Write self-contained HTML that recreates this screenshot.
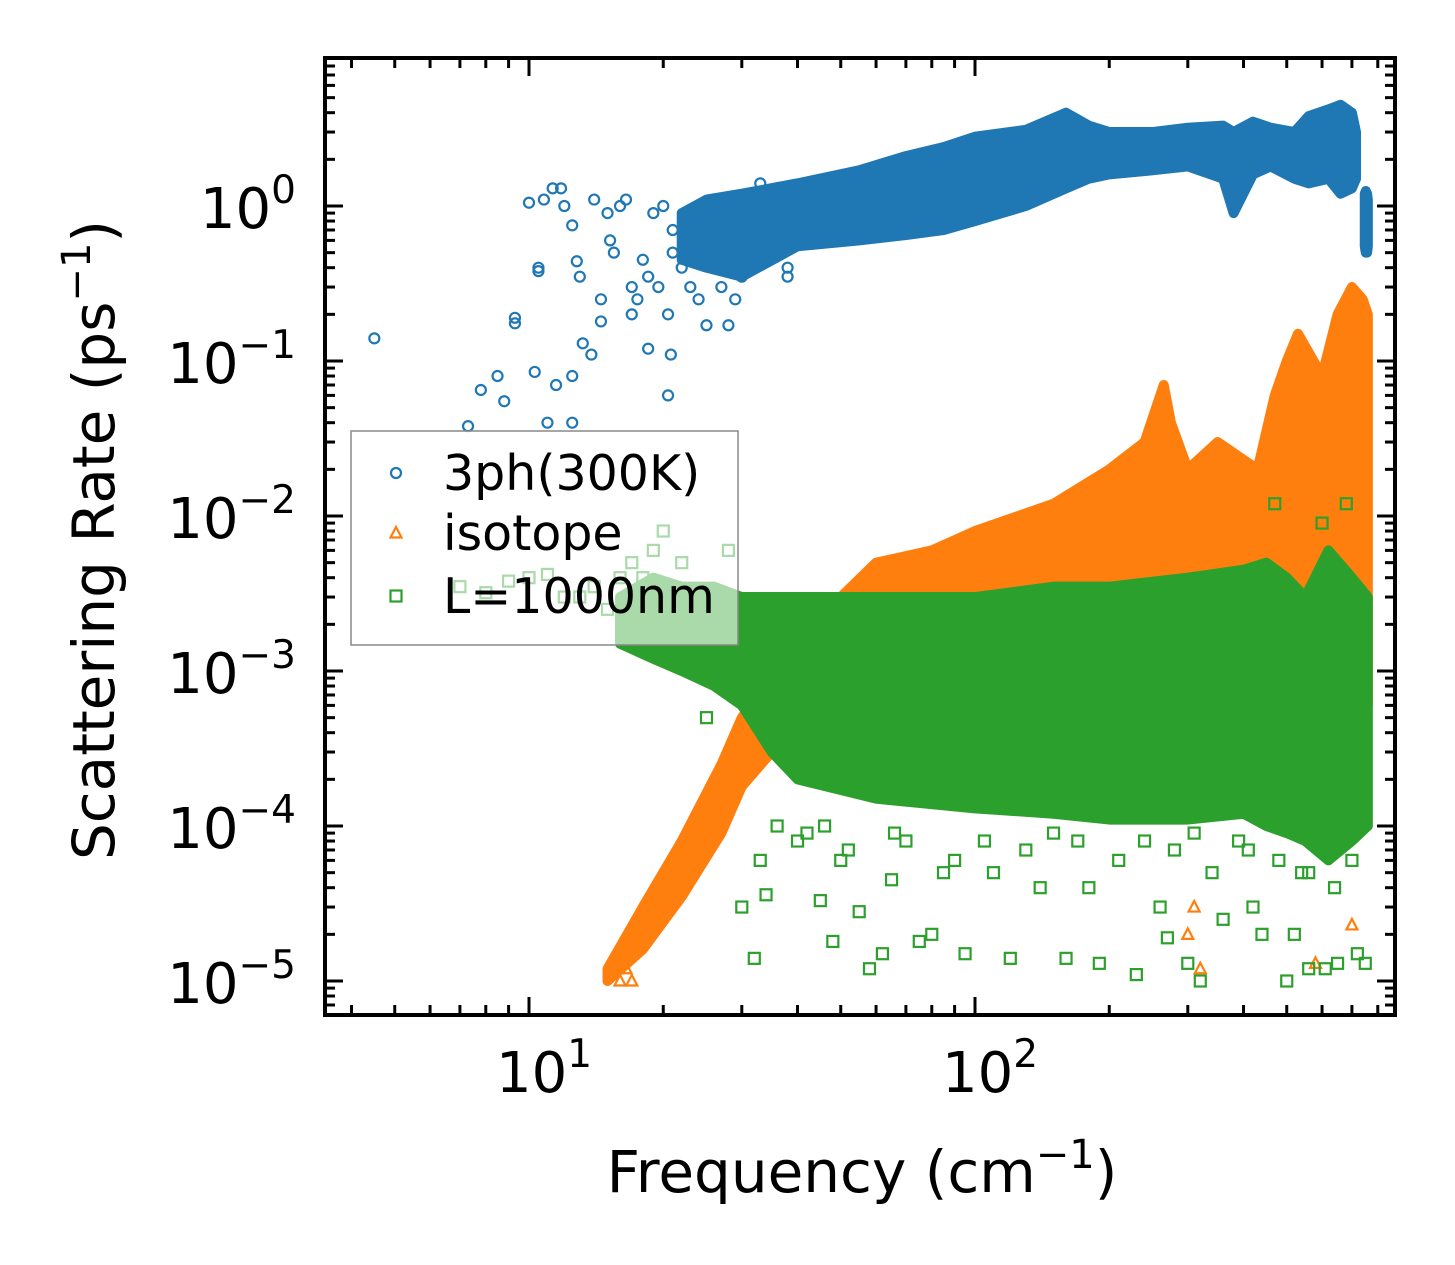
<!DOCTYPE html>
<html><head><meta charset="utf-8"><style>
html,body{margin:0;padding:0;background:#fff;}
svg{display:block;font-family:"DejaVu Sans","Liberation Sans",sans-serif;}
</style></head><body>
<svg id="chart" width="1455" height="1265" viewBox="0 0 1455 1265" xmlns="http://www.w3.org/2000/svg">
<rect width="1455" height="1265" fill="#fff"/>
<g id="marks"></g>
<g id="axes"></g>
</svg>
<script>
// ---- data (frequency cm^-1, rate ps^-1) ----
const bandBlueFreq  = [22, 25, 30, 40, 55, 70, 85, 100, 130, 160, 180, 200, 250, 300, 360, 380, 420, 460, 520, 560, 620, 660, 700, 715];
const bandBlueHigh  = [0.9, 1.1, 1.2, 1.4, 1.7, 2.1, 2.4, 2.8, 3.1, 4.0, 3.3, 3.0, 3.0, 3.2, 3.3, 3.0, 3.5, 3.2, 3.0, 3.8, 4.2, 4.5, 4.0, 3.0];
const bandBlueLow   = [0.45, 0.4, 0.35, 0.55, 0.6, 0.65, 0.7, 0.8, 1.0, 1.3, 1.5, 1.6, 1.7, 1.8, 1.5, 0.9, 1.6, 1.8, 1.5, 1.4, 1.5, 1.2, 1.3, 1.5];
const bandBlue2Freq = [748, 752, 757, 760];
const bandBlue2High = [1.2, 1.25, 1.2, 1.1];
const bandBlue2Low  = [0.55, 0.5, 0.5, 0.55];
const blueFreq = [4.5,7.3,7.8,8.5,8.8,9.3,9.3,10,10.3,10.5,10.5,10.8,11,11.3,11.5,11.8,12,12.5,12.5,12.5,12.8,13,13.2,13.8,14,14.5,14.5,15,15.2,15.5,16,16.5,17,17,17.5,18,18.5,18.5,19,19.5,20,20.5,20.5,20.8,21,21,22,23,24,25,26,27,28,29,30,38,38,33,36];
const blueRate = [0.14,0.038,0.065,0.08,0.055,0.19,0.175,1.05,0.085,0.4,0.38,1.1,0.04,1.3,0.07,1.3,1.0,0.75,0.08,0.04,0.44,0.35,0.13,0.11,1.1,0.25,0.18,0.9,0.6,0.5,1.0,1.1,0.3,0.2,0.25,0.45,0.12,0.35,0.9,0.3,1.0,0.2,0.06,0.11,0.7,0.5,0.4,0.3,0.25,0.17,0.5,0.3,0.17,0.25,0.35,0.4,0.35,1.4,1.3];

const bandOrFreq = [15, 18, 22, 27, 30, 35, 40, 50, 60, 80, 100, 150, 200, 240, 265, 275, 300, 350, 430, 470, 500, 530, 600, 650, 700, 740, 760];
const bandOrHigh = [1.2e-5, 3e-5, 8e-5, 2.5e-4, 5e-4, 9e-4, 2e-3, 3e-3, 5e-3, 6e-3, 8e-3, 1.2e-2, 2e-2, 3e-2, 7e-2, 4e-2, 2e-2, 3e-2, 2e-2, 6e-2, 0.1, 0.15, 0.08, 0.2, 0.3, 0.25, 0.2];
const bandOrLow  = [1e-5, 1.6e-5, 3.5e-5, 9e-5, 1.8e-4, 3e-4, 5e-4, 5e-4, 5e-4, 5e-4, 5e-4, 5e-4, 5e-4, 5e-4, 5e-4, 5e-4, 5e-4, 5e-4, 5e-4, 7e-4, 1e-3, 1.2e-3, 1e-3, 1.5e-3, 1.5e-3, 8e-4, 6e-4];
const orFreq = [16,17,16.5,300,310,320,700,580,520];
const orRate = [1e-5,1e-5,1.2e-5,2e-5,3e-5,1.2e-5,2.3e-5,1.3e-5,9e-5];

const bandGrFreq = [16, 19, 22, 26, 30, 35, 40, 60, 100, 150, 200, 300, 400, 450, 500, 550, 620, 700, 760];
const bandGrHigh = [3e-3, 4e-3, 3.5e-3, 3.5e-3, 3e-3, 3e-3, 3e-3, 3e-3, 3e-3, 3.5e-3, 3.5e-3, 4e-3, 4.5e-3, 5e-3, 4e-3, 3e-3, 6e-3, 4e-3, 3e-3];
const bandGrLow  = [1.5e-3, 1.2e-3, 1e-3, 8e-4, 6e-4, 3e-4, 2e-4, 1.5e-4, 1.3e-4, 1.2e-4, 1.1e-4, 1.1e-4, 1.2e-4, 1e-4, 9e-5, 8e-5, 6e-5, 8e-5, 1e-4];
const grFreq = [7,10,12,15,20,17,19,18,22,33,34,30,32,40,45,48,55,58,62,65,75,80,95,120,160,190,230,270,300,320,440,500,560,610,650,750,25,28,24,14,16,13,11,9,8,21,36,50,85,110,140,180,260,360,420,470,520,600,680,720,42,52,70,90,130,170,210,280,340,390,480,540,640,700,46,66,105,150,240,310,410,560];
const grRate = [3.5e-3,4e-3,3e-3,2.5e-3,8e-3,5e-3,6e-3,4e-3,5e-3,6e-5,3.6e-5,3e-5,1.4e-5,8e-5,3.3e-5,1.8e-5,2.8e-5,1.2e-5,1.5e-5,4.5e-5,1.8e-5,2e-5,1.5e-5,1.4e-5,1.4e-5,1.3e-5,1.1e-5,1.9e-5,1.3e-5,1e-5,2e-5,1e-5,1.2e-5,1.2e-5,1.3e-5,1.3e-5,5e-4,6e-3,2e-3,3.5e-3,4e-3,3e-3,4.2e-3,3.8e-3,3.2e-3,1.5e-3,1e-4,6e-5,5e-5,5e-5,4e-5,4e-5,3e-5,2.5e-5,3e-5,1.2e-2,2e-5,9e-3,1.2e-2,1.5e-5,9e-5,7e-5,8e-5,6e-5,7e-5,8e-5,6e-5,7e-5,5e-5,8e-5,6e-5,5e-5,4e-5,6e-5,1e-4,9e-5,8e-5,9e-5,8e-5,9e-5,7e-5,5e-5];

const xTickVals = [10, 100];
const xTickExp  = ["1", "2"];
const yTickVals = [1, 0.1, 0.01, 0.001, 0.0001, 0.00001];
const yTickExp  = ["0", "\u22121", "\u22122", "\u22123", "\u22124", "\u22125"];

// ---- axes ----
const L=325, R=1395, T=58, B=1015;
const X = f => 529 + 446*(Math.log10(f)-1);
const Y = v => 206 - 155*Math.log10(v);
const NS="http://www.w3.org/2000/svg";
const marks=document.getElementById('marks'), axes=document.getElementById('axes');
function mk(tag, attrs, parent){const e=document.createElementNS(NS,tag);for(const k in attrs)e.setAttribute(k,attrs[k]);parent.appendChild(e);return e;}
const COL={b:'#1f77b4',o:'#ff7f0e',g:'#2ca02c'};

function band(fr,hi,lo,color,name){
  const pts=[];
  for(let i=0;i<fr.length;i++)pts.push(X(fr[i])+','+Y(hi[i]));
  for(let i=fr.length-1;i>=0;i--)pts.push(X(fr[i])+','+Y(lo[i]));
  const p=mk('polygon',{points:pts.join(' '),fill:color,stroke:color,'stroke-width':10,'stroke-linejoin':'round'},marks);
  
  
}
function marker(type,x,y,color,parent){
  let e;
  if(type==='c') e=mk('circle',{cx:x,cy:y,r:5,fill:'none',stroke:color,'stroke-width':2.2},parent);
  else if(type==='s') e=mk('rect',{x:x-5.5,y:y-5.5,width:11,height:11,fill:'none',stroke:color,'stroke-width':2.2},parent);
  else e=mk('polygon',{points:`${x},${y-6} ${x-5.5},${y+4.5} ${x+5.5},${y+4.5}`,fill:'none',stroke:color,'stroke-width':2.2},parent);
  return e;
}
function scatter(fr,rt,type,color,name){
  for(let i=0;i<fr.length;i++){
    const e=marker(type,X(fr[i]),Y(rt[i]),color,marks);
    
    
  }
}
band(bandBlueFreq,bandBlueHigh,bandBlueLow,COL.b,'3ph-dense-band');
band(bandBlue2Freq,bandBlue2High,bandBlue2Low,COL.b,'3ph-dense-band-high-freq');
scatter(blueFreq,blueRate,'c',COL.b,'3ph-point');
band(bandOrFreq,bandOrHigh,bandOrLow,COL.o,'isotope-dense-band');
scatter(orFreq,orRate,'t',COL.o,'isotope-point');
band(bandGrFreq,bandGrHigh,bandGrLow,COL.g,'boundary-dense-band');
scatter(grFreq,grRate,'s',COL.g,'boundary-point');

// legend
const lg=mk('g',{},axes);


mk('rect',{x:351,y:431,width:387,height:214,fill:'#fff','fill-opacity':0.6,stroke:'#888','stroke-width':1.5},lg);
const legItems=[['c',COL.b,'3ph(300K)',490],['t',COL.o,'isotope',550],['s',COL.g,'L=1000nm',613]];
legItems.forEach(it=>{
  marker(it[0],396,it[3]-17,it[1],lg);
  const t=mk('text',{x:443,y:it[3],'font-size':49,fill:'#000'},lg);
  t.textContent=it[2];
  
  
});

// frame
const fr=mk('rect',{x:L,y:T,width:R-L,height:B-T,fill:'none',stroke:'#000','stroke-width':4},axes);



// ticks
for(let d=1;d<=1000;d*=10){
  for(let m=1;m<10;m++){
    const f=d*m, x=X(f);
    if(x<L+2||x>R-2)continue;
    const len=m===1?18:10;
    mk('line',{x1:x,y1:B,x2:x,y2:B-len,stroke:'#000','stroke-width':3},axes);
    mk('line',{x1:x,y1:T,x2:x,y2:T+len,stroke:'#000','stroke-width':3},axes);
  }
}
for(let d=1e-6;d<=10;d*=10){
  for(let m=1;m<10;m++){
    const v=d*m, y=Y(v);
    if(y<T+2||y>B-2)continue;
    const len=m===1?18:10;
    mk('line',{x1:L,y1:y,x2:L+len,y2:y,stroke:'#000','stroke-width':3},axes);
    mk('line',{x1:R,y1:y,x2:R-len,y2:y,stroke:'#000','stroke-width':3},axes);
  }
}
xTickVals.forEach((v,i)=>{
  const t=mk('text',{x:X(v)+15,y:1092,'font-size':56,'text-anchor':'middle',fill:'#000'},axes);
  t.innerHTML='10<tspan dy="-25" font-size="39">'+xTickExp[i]+'</tspan>';
  
  
});
yTickVals.forEach((v,i)=>{
  const t=mk('text',{x:296,y:Y(v)+22,'font-size':56,'text-anchor':'end',fill:'#000'},axes);
  t.innerHTML='10<tspan dy="-25" font-size="39">'+yTickExp[i]+'</tspan>';
  
  
});
const xt=mk('text',{x:862,y:1192,'font-size':58,'text-anchor':'middle',fill:'#000'},axes);
xt.innerHTML='Frequency (cm<tspan dy="-24" font-size="40">\u22121</tspan><tspan dy="24">)</tspan>';


const yt=mk('text',{x:0,y:0,'font-size':58,'text-anchor':'middle',fill:'#000',transform:'translate(114,540) rotate(-90)'},axes);
yt.innerHTML='Scattering Rate (ps<tspan dy="-24" font-size="40">\u22121</tspan><tspan dy="24">)</tspan>';


</script>
</body></html>
